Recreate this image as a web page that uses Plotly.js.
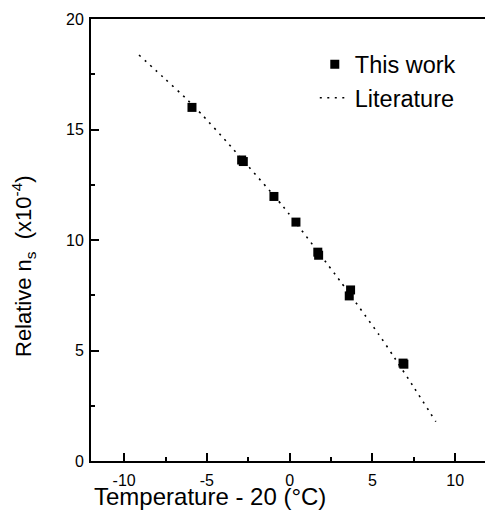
<!DOCTYPE html>
<html>
<head>
<meta charset="utf-8">
<script src="https://cdn.plot.ly/plotly-3.0.1.min.js"></script>
<style>html,body{margin:0;padding:0;background:#fff;}#chart{width:485px;height:524px;}</style>
</head>
<body>
<div id="chart"></div>
<script>
// Measured data ("This work")
var workX = [-5.9, -2.9, -2.8, -0.95, 0.38, 1.7, 1.75, 3.68, 3.6, 6.85, 6.9];
var workY = [16.0, 13.62, 13.55, 11.97, 10.81, 9.45, 9.31, 7.74, 7.47, 4.43, 4.38];
// Literature curve
var litX = [-9.10, -7.50, -6.31, -5.22, -3.81, -0.39, 3.08, 5.40, 6.22, 7.54, 8.83];
var litY = [18.37, 17.27, 16.44, 15.61, 14.45, 11.51, 8.11, 5.71, 4.80, 3.29, 1.78];
// Axis ticks
var xTicks = [-10, -5, 0, 5, 10];
var xTickText = ['-10', '-5', '0', '5', '10'];
var yTicks = [0, 5, 10, 15, 20];
var yTickText = ['0', '5', '10', '15', '20'];

var fontFam = 'Liberation Sans, Arial, sans-serif';

var traces = [
  {
    x: workX, y: workY, type: 'scatter', mode: 'markers', name: 'This work',
    marker: {symbol: 'square', size: 9, color: '#000'}
  },
  {
    x: litX, y: litY, type: 'scatter', mode: 'lines', name: 'Literature',
    line: {color: '#000', width: 1.6, dash: '2px,5.5px', shape: 'spline', smoothing: 0.5}
  }
];

var axisCommon = {
  showgrid: false, zeroline: false, showline: true, linecolor: '#000', linewidth: 2,
  ticks: 'inside', ticklen: 8, tickwidth: 2, tickcolor: '#000',
  tickfont: {family: fontFam, size: 16, color: '#000'}
};

var layout = {
  width: 485, height: 524,
  margin: {l: 91, r: 0, t: 19, b: 63},
  paper_bgcolor: '#fff', plot_bgcolor: '#fff',
  showlegend: true,
  legend: {
    x: 0.568, y: 0.947, xanchor: 'left', yanchor: 'top',
    bgcolor: 'rgba(0,0,0,0)', font: {family: fontFam, size: 23.5, color: '#000'},
    tracegroupgap: 0
  },
  xaxis: Object.assign({}, axisCommon, {
    range: [-12, 11.8], tickvals: xTicks, ticktext: xTickText, mirror: true,
    minor: {dtick: 2.5, ticks: 'inside', ticklen: 4, tickwidth: 2, tickcolor: '#000', showgrid: false},
    ticklabelstandoff: 4
  }),
  yaxis: Object.assign({}, axisCommon, {
    range: [0, 20], tickvals: yTicks, ticktext: yTickText,
    minor: {dtick: 2.5, ticks: 'inside', ticklen: 4, tickwidth: 2, tickcolor: '#000', showgrid: false},
    ticklabelstandoff: 2
  }),
  annotations: [
    {
      text: 'Temperature - 20 (\u00b0C)', xref: 'paper', yref: 'paper',
      x: (210 - 91) / 394, y: -(496 - 461) / 442, xanchor: 'center', yanchor: 'middle',
      showarrow: false, font: {family: fontFam, size: 24, color: '#000'}
    },
    {
      text: 'Relative n<sub>s</sub>\u00a0\u00a0(x10<sup>-4</sup>)', xref: 'paper', yref: 'paper',
      x: -(91 - 23) / 394, y: (461 - 266) / 442, xanchor: 'center', yanchor: 'middle',
      textangle: -90, showarrow: false, font: {family: fontFam, size: 22, color: '#000'}
    }
  ]
};

Plotly.newPlot('chart', traces, layout, {displayModeBar: false, staticPlot: true});
</script>
</body>
</html>
